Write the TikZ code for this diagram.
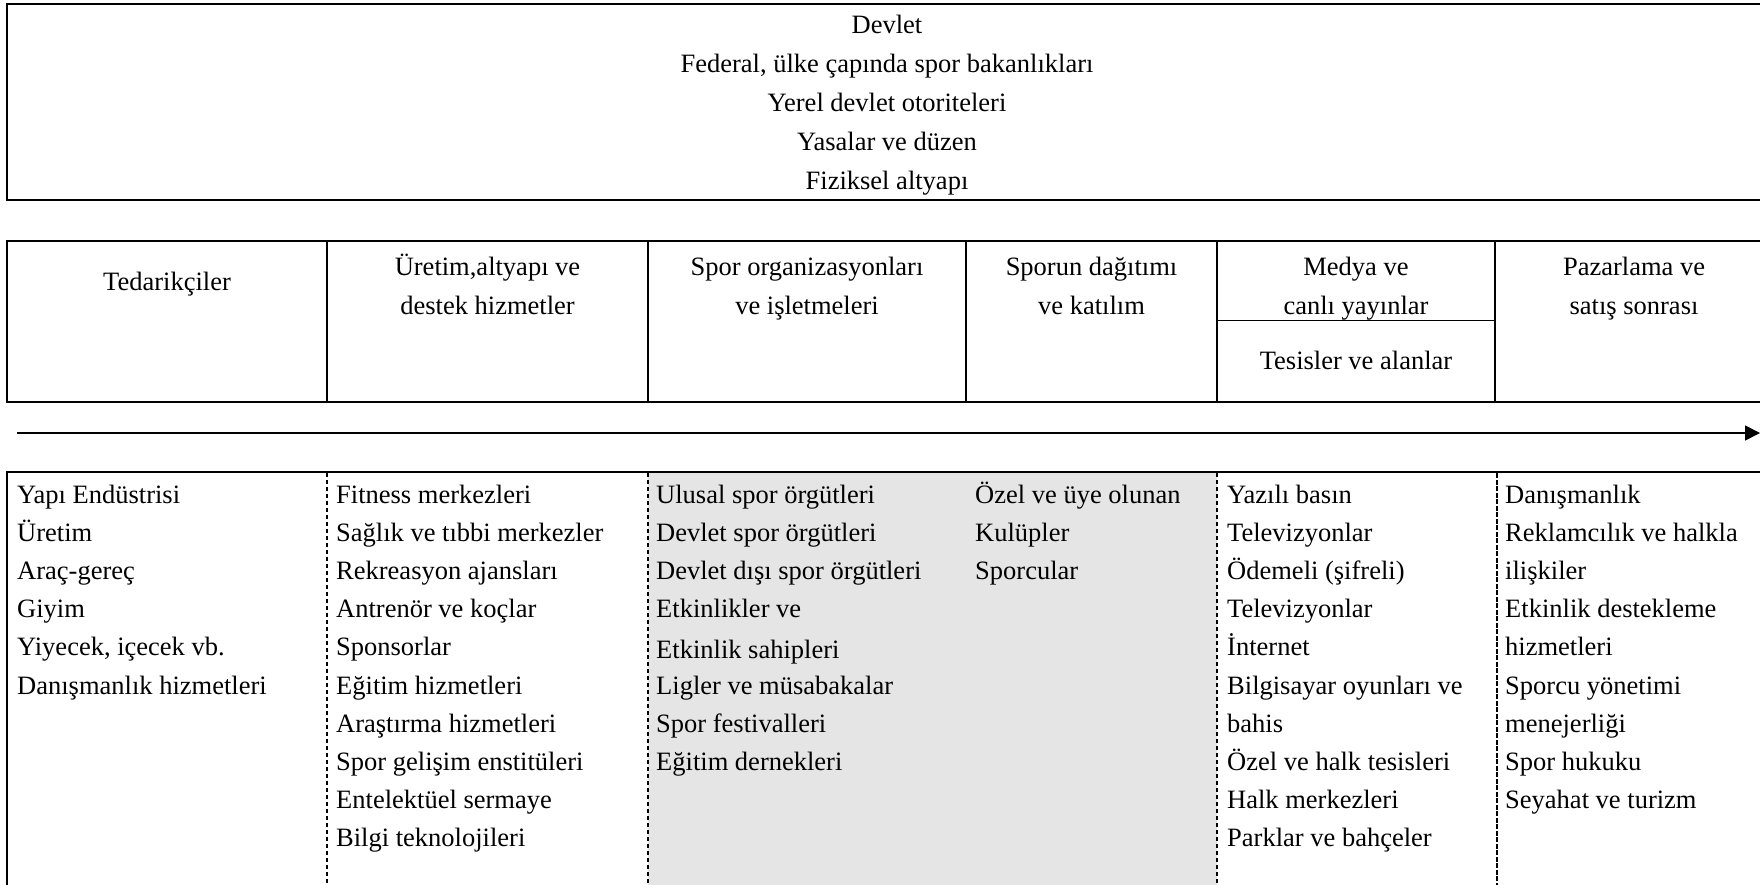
\documentclass[tikz,border=0pt]{standalone}
\usepackage{fontspec}
\setmainfont{Liberation Serif}
\usetikzlibrary{arrows.meta}
\begin{document}
\begin{tikzpicture}[x=1pt,y=-1pt,
  txt/.style={inner sep=0pt, font=\fontsize{26.5}{38}\selectfont},
  cell/.style={txt, anchor=base west},
  ctr/.style={txt, anchor=base},
  frame/.style={line width=2.2pt},
  sep/.style={line width=1.6pt},
  dsep/.style={line width=1.3pt, dash pattern=on 4pt off 3pt},
  dsepbold/.style={line width=2pt, dash pattern=on 5pt off 1.5pt},
  flow/.style={line width=1.6pt, -{Triangle[length=15pt,width=15pt]}},
  shade/.style={fill=black!10}
]
\useasboundingbox (0,0) rectangle (1760,885);
\begin{scope}
\clip (0,0) rectangle (1760,885);

% --- government frame ---
\draw[frame] (1800,4) -- (7,4) -- (7,200) -- (1800,200);
\foreach \t [count=\i] in {Devlet,
    {Federal, ülke çapında spor bakanlıkları},
    Yerel devlet otoriteleri,
    Yasalar ve düzen,
    Fiziksel altyapı}
  \node[ctr] (gov\i) at (887,{34+39*(\i-1)}) {\t};

% --- value chain headers ---
\draw[frame] (1800,241) -- (7,241) -- (7,402) -- (1800,402);
\foreach \x in {327,648,966,1217,1495}
  \draw[sep] (\x,241) -- (\x,402);
\draw[sep] (1217,320.5) -- (1495,320.5);

\node[ctr] (h1)  at (167,290) {Tedarikçiler};
\node[ctr] (h2a) at (487.5,275) {Üretim,altyapı ve};
\node[ctr] (h2b) at (487.5,314) {destek hizmetler};
\node[ctr] (h3a) at (807,275) {Spor organizasyonları};
\node[ctr] (h3b) at (807,314) {ve işletmeleri};
\node[ctr] (h4a) at (1091.5,275) {Sporun dağıtımı};
\node[ctr] (h4b) at (1091.5,314) {ve katılım};
\node[ctr] (h5a) at (1356,275) {Medya ve};
\node[ctr] (h5b) at (1356,314) {canlı yayınlar};
\node[ctr] (h5c) at (1356,369) {Tesisler ve alanlar};
\node[ctr] (h6a) at (1634,275) {Pazarlama ve};
\node[ctr] (h6b) at (1634,314) {satış sonrası};

% --- flow arrow ---
\coordinate (flowS) at (17,433);
\coordinate (flowE) at (1760,433);
\draw[flow] (flowS) -- (flowE);

% --- detail table ---
\fill[shade] (648,472) rectangle (1217,890);
\draw[frame] (1800,472) -- (7,472) -- (7,890);
\foreach \x in {327,648,1217}
  \draw[dsep] (\x,473) -- (\x,890);
\draw[dsepbold] (1497,473) -- (1497,890);

\foreach \t [count=\i] in {Yapı Endüstrisi, Üretim, Araç-gereç, Giyim,
    {Yiyecek, içecek vb.}, Danışmanlık hizmetleri}
  \node[cell] (a\i) at (17,{503+38.2*(\i-1)}) {\t};

\foreach \t [count=\i] in {Fitness merkezleri, Sağlık ve tıbbi merkezler,
    Rekreasyon ajansları, Antrenör ve koçlar, Sponsorlar,
    Eğitim hizmetleri, Araştırma hizmetleri, Spor gelişim enstitüleri,
    Entelektüel sermaye, Bilgi teknolojileri}
  \node[cell] (b\i) at (336,{503+38.2*(\i-1)}) {\t};

\foreach \t [count=\i] in {Ulusal spor örgütleri, Devlet spor örgütleri,
    Devlet dışı spor örgütleri, Etkinlikler ve}
  \node[cell] (c\i) at (656,{503+38.2*(\i-1)}) {\t};
\node[cell] (c5) at (656,{503+38.2*4+3}) {Etkinlik sahipleri};
\foreach \t [count=\i from 6] in {Ligler ve müsabakalar, Spor festivalleri,
    Eğitim dernekleri}
  \node[cell] (c\i) at (656,{503+38.2*(\i-1)}) {\t};

\foreach \t [count=\i] in {Özel ve üye olunan, Kulüpler, Sporcular}
  \node[cell] (d\i) at (975,{503+38.2*(\i-1)}) {\t};

\foreach \t [count=\i] in {Yazılı basın, Televizyonlar, Ödemeli (şifreli),
    Televizyonlar, İnternet, Bilgisayar oyunları ve, bahis,
    Özel ve halk tesisleri, Halk merkezleri, Parklar ve bahçeler}
  \node[cell] (e\i) at (1227,{503+38.2*(\i-1)}) {\t};

\foreach \t [count=\i] in {Danışmanlık, Reklamcılık ve halkla, ilişkiler,
    Etkinlik destekleme, hizmetleri, Sporcu yönetimi, menejerliği,
    Spor hukuku, Seyahat ve turizm}
  \node[cell] (f\i) at (1505,{503+38.2*(\i-1)}) {\t};
\end{scope}
\end{tikzpicture}
\end{document}
